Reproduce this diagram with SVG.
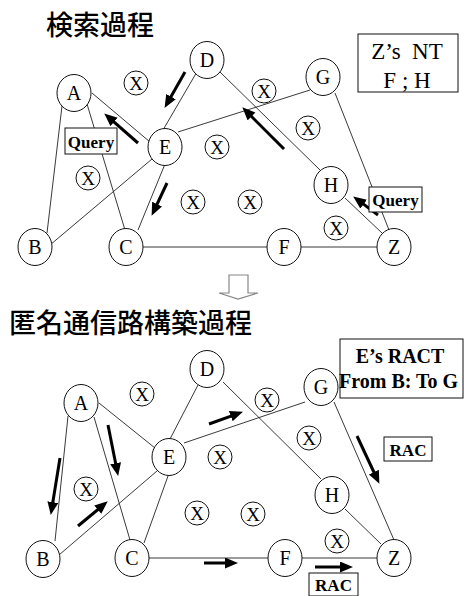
<svg xmlns="http://www.w3.org/2000/svg" width="464" height="596" viewBox="0 0 464 596">
<style>
.edge{stroke:#222;stroke-width:0.9;fill:none}
.arr{stroke:#000;stroke-width:3;fill:none;marker-end:url(#ah)}
.nd{fill:#fff;stroke:#111;stroke-width:1}
.nt{font-family:"Liberation Serif",serif;font-size:20px;text-anchor:middle;fill:#000}
.xt{font-family:"Liberation Serif",serif;font-size:19px;text-anchor:middle;fill:#000}
.box{fill:#fff;stroke:#111;stroke-width:1}
.bt{font-family:"Liberation Serif",serif;font-weight:bold;font-size:17px;text-anchor:middle;fill:#000}
.title{font-family:"Noto Sans CJK JP","Noto Sans CJK SC",sans-serif;font-size:27px;font-weight:500;fill:#000}
</style>
<defs>
<marker id="ah" markerUnits="userSpaceOnUse" markerWidth="15" markerHeight="12" refX="1" refY="5.5" orient="auto">
<path d="M0,0 L13,5.5 L0,11 z" fill="#000"/>
</marker>
</defs>

<text class="title" x="46" y="35">検索過程</text>
<text class="title" x="9" y="333">匿名通信路構築過程</text>

<g id="connectors">
<!-- top -->
<line class="edge" x1="62" y1="106" x2="47" y2="233"/>
<line class="edge" x1="87" y1="104" x2="125" y2="230"/>
<line class="edge" x1="92" y1="93" x2="150" y2="142"/>
<line class="edge" x1="50" y1="245" x2="152" y2="159"/>
<line class="edge" x1="138" y1="230" x2="165" y2="164"/>
<line class="edge" x1="143" y1="247" x2="267" y2="247"/>
<line class="edge" x1="301" y1="247" x2="377" y2="247"/>
<line class="edge" x1="198" y1="70" x2="163" y2="130"/>
<line class="edge" x1="220" y1="72" x2="321" y2="171"/>
<line class="edge" x1="178" y1="132" x2="310" y2="90"/>
<line class="edge" x1="335" y1="93" x2="389" y2="230"/>
<line class="edge" x1="345" y1="198" x2="382" y2="233"/>
<!-- bottom -->
<line class="edge" x1="68" y1="416" x2="55" y2="541"/>
<line class="edge" x1="94" y1="417" x2="130" y2="540"/>
<line class="edge" x1="99" y1="403" x2="155" y2="448"/>
<line class="edge" x1="59" y1="555" x2="157" y2="471"/>
<line class="edge" x1="144" y1="543" x2="168" y2="476"/>
<line class="edge" x1="148" y1="558" x2="268" y2="558"/>
<line class="edge" x1="302" y1="558" x2="377" y2="558"/>
<line class="edge" x1="198" y1="385" x2="170" y2="439"/>
<line class="edge" x1="223" y1="382" x2="321" y2="479"/>
<line class="edge" x1="184" y1="443" x2="305" y2="402"/>
<line class="edge" x1="334" y1="402" x2="394" y2="540"/>
<line class="edge" x1="345" y1="509" x2="381" y2="544"/>
</g>

<g id="arrows">
<line class="arr" x1="138" y1="143" x2="113.3" y2="121.3"/>
<line class="arr" x1="185" y1="72" x2="170.5" y2="97.5"/>
<line class="arr" x1="167" y1="183" x2="156.7" y2="205"/>
<line class="arr" x1="284" y1="149" x2="250.8" y2="115.8"/>
<line class="arr" x1="378" y1="215" x2="362.8" y2="203.6"/>
<line class="arr" x1="60" y1="458" x2="52.7" y2="503.1"/>
<line class="arr" x1="108" y1="425" x2="115.8" y2="464.2"/>
<line class="arr" x1="78" y1="526" x2="98.5" y2="509"/>
<line class="arr" x1="209" y1="424" x2="231.7" y2="415.8"/>
<line class="arr" x1="204" y1="563" x2="226" y2="563"/>
<line class="arr" x1="315" y1="567" x2="341" y2="567"/>
<line class="arr" x1="357" y1="436" x2="374.3" y2="473"/>
</g>

<g id="down-arrow">
<polygon points="229,275 248,275 248,293 258,293 238,299 219,293 229,293" fill="#fff" stroke="#888" stroke-width="1.2"/>
</g>

<!-- top nodes -->
<g id="tA"><ellipse class="nd" cx="74" cy="93" rx="17" ry="18.5"/><text class="nt" x="74" y="100">A</text></g>
<g id="tD"><ellipse class="nd" cx="207" cy="60" rx="17" ry="18.5"/><text class="nt" x="207" y="67">D</text></g>
<g id="tE"><ellipse class="nd" cx="165" cy="147" rx="17" ry="18.5"/><text class="nt" x="165" y="154">E</text></g>
<g id="tG"><ellipse class="nd" cx="323" cy="77" rx="17" ry="18.5"/><text class="nt" x="323" y="84">G</text></g>
<g id="tH"><ellipse class="nd" cx="331" cy="185" rx="17" ry="18.5"/><text class="nt" x="331" y="192">H</text></g>
<g id="tB"><ellipse class="nd" cx="35" cy="247" rx="17" ry="18.5"/><text class="nt" x="35" y="254">B</text></g>
<g id="tC"><ellipse class="nd" cx="126" cy="247" rx="17" ry="18.5"/><text class="nt" x="126" y="254">C</text></g>
<g id="tF"><ellipse class="nd" cx="284" cy="247" rx="17" ry="18.5"/><text class="nt" x="284" y="254">F</text></g>
<g id="tZ"><ellipse class="nd" cx="394" cy="247" rx="17" ry="18.5"/><text class="nt" x="394" y="254">Z</text></g>
<g id="tX1"><circle class="nd" cx="136" cy="83" r="12"/><text class="xt" x="136" y="90">X</text></g>
<g id="tX2"><circle class="nd" cx="264" cy="91" r="12"/><text class="xt" x="264" y="98">X</text></g>
<g id="tX3"><circle class="nd" cx="308" cy="128" r="12"/><text class="xt" x="308" y="135">X</text></g>
<g id="tX4"><circle class="nd" cx="217" cy="147" r="12"/><text class="xt" x="217" y="154">X</text></g>
<g id="tX5"><circle class="nd" cx="88" cy="178" r="12"/><text class="xt" x="88" y="185">X</text></g>
<g id="tX6"><circle class="nd" cx="193" cy="202" r="12"/><text class="xt" x="193" y="209">X</text></g>
<g id="tX7"><circle class="nd" cx="250" cy="202" r="12"/><text class="xt" x="250" y="209">X</text></g>
<g id="tX8"><circle class="nd" cx="336" cy="228" r="12"/><text class="xt" x="336" y="235">X</text></g>

<g id="query1"><rect class="box" x="65" y="128" width="52" height="26"/><text class="bt" x="91" y="148">Query</text></g>
<g id="query2"><rect class="box" x="369" y="187" width="53" height="25"/><text class="bt" x="395.5" y="206">Query</text></g>
<g id="zs-nt"><rect class="box" x="358" y="34" width="100" height="58"/>
<text class="nt" style="font-size:23px;white-space:pre" x="407" y="59">Z’s  NT</text>
<text class="nt" style="font-size:23px;white-space:pre" x="407" y="88">F ; H</text></g>

<!-- bottom nodes -->
<g id="bA"><ellipse class="nd" cx="81" cy="403" rx="17" ry="18.5"/><text class="nt" x="81" y="410">A</text></g>
<g id="bD"><ellipse class="nd" cx="207" cy="369" rx="17" ry="18.5"/><text class="nt" x="207" y="376">D</text></g>
<g id="bE"><ellipse class="nd" cx="169" cy="457" rx="17" ry="18.5"/><text class="nt" x="169" y="464">E</text></g>
<g id="bG"><ellipse class="nd" cx="321" cy="387" rx="17" ry="18.5"/><text class="nt" x="321" y="394">G</text></g>
<g id="bH"><ellipse class="nd" cx="332" cy="495" rx="17" ry="18.5"/><text class="nt" x="332" y="502">H</text></g>
<g id="bB"><ellipse class="nd" cx="43" cy="559" rx="17" ry="18.5"/><text class="nt" x="43" y="566">B</text></g>
<g id="bC"><ellipse class="nd" cx="132" cy="558" rx="17" ry="18.5"/><text class="nt" x="132" y="565">C</text></g>
<g id="bF"><ellipse class="nd" cx="285" cy="558" rx="17" ry="18.5"/><text class="nt" x="285" y="565">F</text></g>
<g id="bZ"><ellipse class="nd" cx="394" cy="558" rx="17" ry="18.5"/><text class="nt" x="394" y="565">Z</text></g>
<g id="bX1"><circle class="nd" cx="142" cy="394" r="12"/><text class="xt" x="142" y="401">X</text></g>
<g id="bX2"><circle class="nd" cx="267" cy="400" r="12"/><text class="xt" x="267" y="407">X</text></g>
<g id="bX3"><circle class="nd" cx="309" cy="438" r="12"/><text class="xt" x="309" y="445">X</text></g>
<g id="bX4"><circle class="nd" cx="220" cy="457" r="12"/><text class="xt" x="220" y="464">X</text></g>
<g id="bX5"><circle class="nd" cx="86" cy="489" r="12"/><text class="xt" x="86" y="496">X</text></g>
<g id="bX6"><circle class="nd" cx="197" cy="513" r="12"/><text class="xt" x="197" y="520">X</text></g>
<g id="bX7"><circle class="nd" cx="253" cy="514" r="12"/><text class="xt" x="253" y="521">X</text></g>
<g id="bX8"><circle class="nd" cx="337" cy="541" r="12"/><text class="xt" x="337" y="548">X</text></g>

<g id="ract"><rect class="box" x="340" y="339" width="123" height="59"/>
<text class="bt" style="font-size:20px" x="400" y="363">E’s RACT</text>
<text class="bt" style="font-size:20px;text-anchor:start" x="339" y="388">From B: To G</text></g>
<g id="rac1"><rect class="box" x="384" y="437" width="48" height="24"/><text class="bt" x="408" y="456">RAC</text></g>
<g id="rac2"><rect class="box" x="309" y="573" width="49" height="23"/><text class="bt" x="333.5" y="591">RAC</text></g>
</svg>
